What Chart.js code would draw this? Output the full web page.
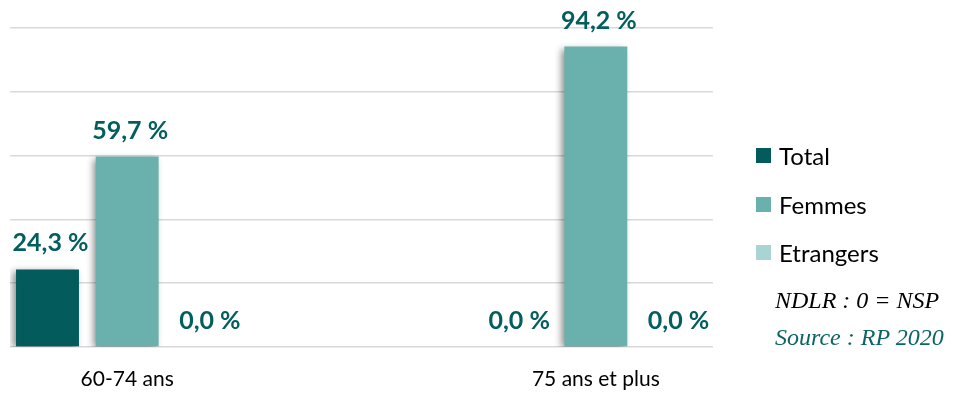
<!DOCTYPE html>
<html>
<head>
<meta charset="utf-8">
<script src="https://cdn.jsdelivr.net/npm/chart.js@4.4.0/dist/chart.umd.min.js"></script>
<style>
  html, body { margin: 0; padding: 0; background: #fff; }
  #wrap { position: relative; width: 965px; height: 393px; }
  #legend { position: absolute; left: 756px; top: 141px; font-family: Lato, "Open Sans", sans-serif; font-size: 24px; color: #000; }
  #legend div { height: 48.5px; display: flex; align-items: flex-start; }
  #legend span.box { display: inline-block; width: 15px; height: 15px; margin-top: 7px; margin-right: 8px; }
  .note { position: absolute; left: 775px; font-family: "Liberation Serif", "DejaVu Serif", serif; font-style: italic; font-size: 24px; white-space: nowrap; }
</style>
</head>
<body>
<div id="wrap">
  <canvas id="chart" width="965" height="393"></canvas>
  <div id="legend"></div>
  <div class="note" style="top:287px;color:#000;">NDLR : 0 = NSP</div>
  <div class="note" style="top:324px;color:#0c6464;">Source : RP 2020</div>
</div>
<script>
// Data
const categories = ['60-74 ans', '75 ans et plus'];
const seriesNames = ['Total', 'Femmes', 'Etrangers'];
const totalValues = [24.3, 0.0];
const femmesValues = [59.7, 94.2];
const etrangersValues = [0.0, 0.0];
const yTicks = [0, 20, 40, 60, 80, 100];

const colors = ['#035b5b', '#6ab1ae', '#aad3d3'];
const seriesValues = [totalValues, femmesValues, etrangersValues];

// legend (HTML)
const legendEl = document.getElementById('legend');
seriesNames.forEach((name, i) => {
    const row = document.createElement('div');
    row.innerHTML = `<span class="box" style="background:${colors[i]}"></span><span>${name}</span>`;
    legendEl.appendChild(row);
});

// bar shadow
const shadowPlugin = {
    id: 'barShadow',
    beforeDatasetsDraw(chart) {
        const ctx = chart.ctx;
        ctx.save();
        ctx.shadowColor = 'rgba(0,0,0,0.45)';
        ctx.shadowBlur = 7;
        ctx.shadowOffsetX = -3;
        ctx.shadowOffsetY = 2;
    },
    afterDatasetsDraw(chart) {
        chart.ctx.restore();
    }
};

// value labels above bars
const valueLabels = {
    id: 'valueLabels',
    afterDatasetsDraw(chart) {
        const ctx = chart.ctx;
        ctx.save();
        ctx.font = 'bold 25px Lato, "Open Sans", sans-serif';
        ctx.fillStyle = '#035e5e';
        ctx.textAlign = 'center';
        ctx.textBaseline = 'alphabetic';
        chart.data.datasets.forEach((ds, di) => {
            chart.getDatasetMeta(di).data.forEach((bar, i) => {
                const v = ds.data[i].y;
                const txt = v.toFixed(1).replace('.', ',') + ' %';
                ctx.fillText(txt, bar.x + 3, bar.y - 18);
            });
        });
        ctx.restore();
    }
};

const ctx = document.getElementById('chart').getContext('2d');
new Chart(ctx, {
    type: 'bar',
    data: {
        datasets: seriesNames.map((name, i) => ({
            label: name,
            data: seriesValues[i].map((v, j) => ({ x: j, y: v })),
            backgroundColor: colors[i],
            barPercentage: 0.79,
            categoryPercentage: 0.51
        }))
    },
    options: {
        responsive: false,
        animation: false,
        layout: { padding: { left: 10, right: 252, top: 28, bottom: 0 } },
        plugins: {
            legend: { display: false },
            tooltip: { enabled: false }
        },
        scales: {
            x: {
                type: 'linear',
                min: -0.25,
                max: 1.25,
                offset: false,
                grid: { display: false },
                border: { display: false },
                afterBuildTicks: axis => { axis.ticks = categories.map((c, i) => ({ value: i })); },
                afterFit: axis => { axis.height = 46; },
                ticks: {
                    padding: 12,
                    maxRotation: 0,
                    autoSkip: false,
                    color: '#000',
                    font: { family: 'Lato, "Open Sans", sans-serif', size: 21 },
                    callback: value => categories[value]
                }
            },
            y: {
                min: 0,
                max: 100,
                afterBuildTicks: axis => { axis.ticks = yTicks.map(v => ({ value: v })); },
                ticks: { display: false },
                border: { display: false },
                grid: { color: '#d9d9d9', lineWidth: 1.5, drawTicks: false }
            }
        }
    },
    plugins: [shadowPlugin, valueLabels]
});
</script>
</body>
</html>
